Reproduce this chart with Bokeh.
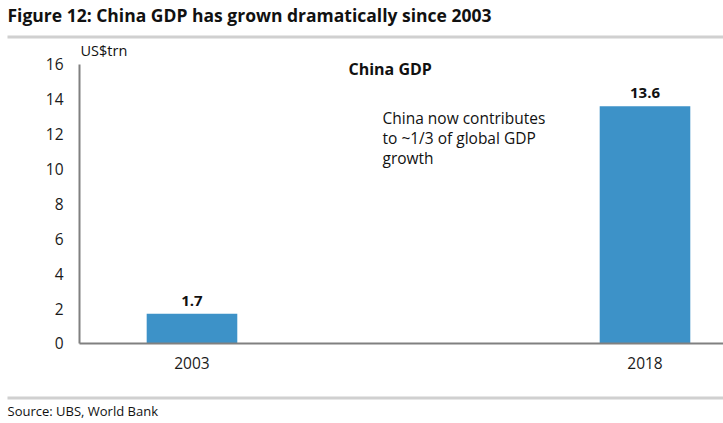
from bokeh.plotting import figure
from bokeh.models import Label, BoxAnnotation, Range1d, FixedTicker, ColumnDataSource, LinearAxis
from bokeh.embed import file_html
from bokeh.resources import INLINE

years = ["2003", "2018"]
gdp = [1.7, 13.6]
gdp_labels = ["1.7", "13.6"]
y_ticks = [0, 2, 4, 6, 8, 10, 12, 14, 16]

FONT = "Open Sans"
BLUE = "#3d92c8"

xpos = [0, 1]
src = ColumnDataSource(dict(x=xpos, top=gdp, lab=gdp_labels))

# frame covers the whole canvas; axes are pinned with fixed_location
X0, X1 = -0.4227, 1.1733
Y0, Y1 = -4.588, 19.670
AX_X = -0.2483

p = figure(width=723, height=423, output_backend="svg", toolbar_location=None,
           x_range=Range1d(X0, X1), y_range=Range1d(Y0, Y1),
           x_axis_type=None, y_axis_type=None,
           min_border=0, min_border_left=0, min_border_right=0,
           min_border_top=0, min_border_bottom=0)
p.outline_line_color = None
p.grid.grid_line_color = None
p.background_fill_color = "white"
p.border_fill_color = "white"

p.vbar(x="x", top="top", width=0.2, source=src, color=BLUE, line_color=None)

yax = LinearAxis(fixed_location=AX_X, bounds=(0, 16), ticker=FixedTicker(ticks=y_ticks))
xax = LinearAxis(fixed_location=0, bounds=(AX_X, X1), ticker=FixedTicker(ticks=xpos),
                 major_label_overrides={0: years[0], 1: years[1]})
for ax in (xax, yax):
    ax.axis_line_color = "#808080"
    ax.axis_line_width = 2
    ax.major_tick_line_color = None
    ax.minor_tick_line_color = None
    ax.major_label_text_font = FONT
    ax.major_label_text_font_size = "15.5px"
    ax.major_label_text_color = "#1a1a1a"
yax.major_label_standoff = 10
xax.major_label_standoff = 8
p.add_layout(yax, "left")
p.add_layout(xax, "below")

# value labels
for xi, v, lab in zip(xpos, gdp, gdp_labels):
    p.add_layout(Label(x=xi, y=v, text=lab, y_offset=8, text_align="center",
                       text_baseline="bottom", text_font=FONT, text_font_style="bold",
                       text_font_size="15px", text_color="#111111"))

def clabel(x, y, text, size, bold=False, align="left", color="#111111"):
    p.add_layout(Label(x=x, y=y, x_units="canvas", y_units="canvas", text=text,
                       text_align=align, text_baseline="middle", text_font=FONT,
                       text_font_size=size, text_font_style="bold" if bold else "normal",
                       text_color=color))

clabel(7, 14, "Figure 12: China GDP has grown dramatically since 2003", "17.5px", bold=True)
clabel(80, 50, "US$trn", "14.5px")
clabel(348, 68, "China GDP", "16px", bold=True)
clabel(382, 117, "China now contributes", "15.5px")
clabel(382, 137, "to ~1/3 of global GDP", "15.5px")
clabel(382, 157, "growth", "15.5px")
clabel(7, 410, "Source: UBS,  World Bank", "13px")

for yy in (36, 397):
    p.add_layout(BoxAnnotation(left=7, right=723, top=yy - 1, bottom=yy + 2,
                               left_units="canvas", right_units="canvas",
                               top_units="canvas", bottom_units="canvas",
                               fill_color="#d0d0d0", fill_alpha=1, line_color=None))

open("out.html", "w").write(file_html(p, INLINE))
